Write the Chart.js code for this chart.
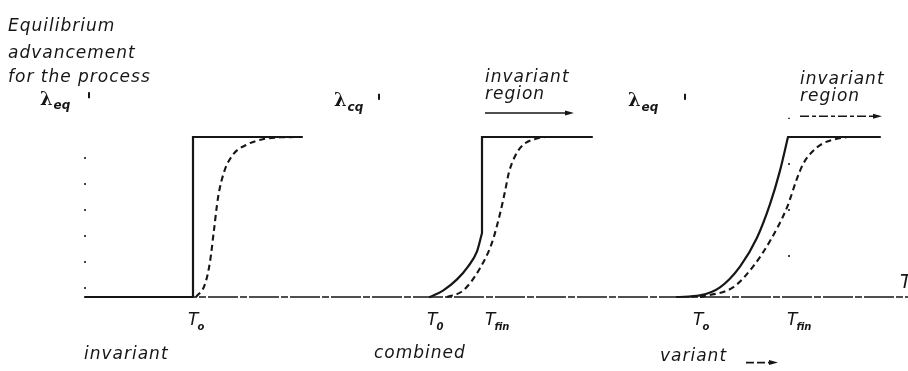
<!DOCTYPE html>
<html>
<head>
<meta charset="utf-8">
<script src="https://cdn.jsdelivr.net/npm/chart.js@4"></script>
<style>
  html, body { margin: 0; padding: 0; background: #fff; }
  #wrap { width: 908px; height: 371px; }
</style>
</head>
<body>
<div id="wrap"><canvas id="eqChart" width="908" height="371"></canvas></div>
<script>
// Temperature axis (arbitrary units) and equilibrium advancement (0 = none, 1 = complete)
const axisT = [85, 908];

// invariant process: sharp step at T0
const invStepT = [85, 193, 193, 302];
const invStepLam = [0, 0, 1, 1];
const invDashT = [196, 205, 210, 214, 218, 224, 233, 246, 262, 280, 300];
const invDashLam = [0, 0.08, 0.22, 0.42, 0.62, 0.78, 0.89, 0.95, 0.985, 0.998, 1];

// combined process: gradual rise from T0, then jump at Tfin
const combCurveT = [430, 443, 457, 468, 477, 482];
const combCurveLam = [0, 0.04, 0.11, 0.19, 0.285, 0.4];
const combStepT = [482, 482, 592];
const combStepLam = [0.4, 1, 1];
const combDashT = [447, 463, 480, 492, 500, 505, 509, 515, 523, 537, 545];
const combDashLam = [0, 0.04, 0.18, 0.34, 0.52, 0.66, 0.78, 0.88, 0.95, 0.99, 1];

// variant process: smooth rise from T0 up to Tfin
const varCurveT = [677, 700, 720, 740, 757, 770, 780, 788];
const varCurveLam = [0, 0.01, 0.06, 0.19, 0.37, 0.58, 0.79, 1];
const varTopT = [788, 880];
const varTopLam = [1, 1];
const varDashT = [700, 733, 753, 770, 787, 797, 803, 811, 823, 838, 847];
const varDashLam = [0, 0.06, 0.19, 0.35, 0.56, 0.74, 0.83, 0.9, 0.96, 0.99, 1];

// tick labels on the T axis
const tickT = [193, 432, 490, 698, 792];
const tickMain = ['T', 'T', 'T', 'T', 'T'];
const tickSub = ['o', '0', 'fin', 'o', 'fin'];

function pts(xs, ys) {
    return xs.map((x, i) => ({ x: x, y: ys[i] }));
}

const ink = '#161616';

function solid(xs, ys, smooth) {
    return {
        data: pts(xs, ys),
        borderColor: ink,
        borderWidth: 2.2,
        pointRadius: 0,
        tension: 0,
        cubicInterpolationMode: smooth ? 'monotone' : 'default',
        borderCapStyle: 'round',
        borderJoinStyle: 'miter'
    };
}

function dashed(xs, ys) {
    return {
        data: pts(xs, ys),
        borderColor: ink,
        borderWidth: 2.1,
        borderDash: [6, 4],
        pointRadius: 0,
        cubicInterpolationMode: 'monotone'
    };
}

function dotted(xs, ys, gap) {
    return {
        data: pts(xs, ys),
        borderColor: ink,
        borderWidth: 1.6,
        borderDash: [2, gap],
        pointRadius: 0
    };
}

// text placed in chart units
const labels = [
    { text: 'Equilibrium', x: 8, y: 1.69 },
    { text: 'advancement', x: 8, y: 1.52 },
    { text: 'for the process', x: 8, y: 1.37 },
    { text: 'invariant', x: 84, y: -0.36 },
    { text: 'combined', x: 374, y: -0.355 },
    { text: 'variant', x: 660, y: -0.37 },
    { text: 'invariant', x: 485, y: 1.37 },
    { text: 'region', x: 485, y: 1.265 },
    { text: 'invariant', x: 800, y: 1.36 },
    { text: 'region', x: 800, y: 1.255 }
];
const lambdaLabels = [
    { x: 40, y: 1.23, sub: 'eq', mark: 88 },
    { x: 334, y: 1.22, sub: 'cq', mark: 378 },
    { x: 628, y: 1.22, sub: 'eq', mark: 684 }
];
const arrows = [
    { x0: 485, x1: 574, y: 1.15, dash: [] },
    { x0: 800, x1: 882, y: 1.13, dash: [9, 3, 4, 3] },
    { x0: 746, x1: 778, y: -0.41, dash: [8, 3] }
];

const textPlugin = {
    id: 'figText',
    afterDatasetsDraw(chart) {
        const { ctx, scales } = chart;
        const px = v => scales.x.getPixelForValue(v);
        const py = v => scales.y.getPixelForValue(v);
        ctx.save();
        ctx.fillStyle = ink;
        ctx.textBaseline = 'middle';
        ctx.font = 'italic 17px "DejaVu Sans"';
        ctx.letterSpacing = '1px';
        labels.forEach(l => ctx.fillText(l.text, px(l.x), py(l.y)));
        ctx.letterSpacing = '0px';

        // lambda symbols with subscripts and small axis tick
        lambdaLabels.forEach(l => {
            ctx.font = 'bold 18px "DejaVu Serif"';
            ctx.fillText('λ', px(l.x), py(l.y));
            const w = ctx.measureText('λ').width;
            ctx.font = 'bold italic 12px "DejaVu Sans"';
            ctx.fillText(l.sub, px(l.x) + w + 1, py(l.y) + 6);
            ctx.fillRect(px(l.mark), py(l.y) - 8, 2, 6);
        });

        // T axis ticks
        tickT.forEach((t, i) => {
            ctx.font = 'italic 17px "DejaVu Sans"';
            const x = px(t) - 5;
            const y = py(-0.15);
            ctx.fillText(tickMain[i], x, y);
            const w = ctx.measureText(tickMain[i]).width;
            ctx.font = 'bold italic 10px "DejaVu Sans"';
            ctx.fillText(tickSub[i], x + w - 1, y + 6);
        });
        ctx.font = 'italic 19px "DejaVu Sans"';
        ctx.fillText('T', px(900), py(0.09));

        // arrows
        ctx.strokeStyle = ink;
        ctx.lineWidth = 1.6;
        arrows.forEach(a => {
            const y = py(a.y);
            ctx.setLineDash(a.dash);
            ctx.beginPath();
            ctx.moveTo(px(a.x0), y);
            ctx.lineTo(px(a.x1) - 6, y);
            ctx.stroke();
            ctx.setLineDash([]);
            ctx.beginPath();
            ctx.moveTo(px(a.x1), y);
            ctx.lineTo(px(a.x1) - 9, y - 2.5);
            ctx.lineTo(px(a.x1) - 9, y + 2.5);
            ctx.closePath();
            ctx.fill();
        });
        ctx.restore();
    }
};

new Chart(document.getElementById('eqChart'), {
    type: 'scatter',
    data: {
        datasets: [
            {
                data: pts(axisT, [0, 0]),
                borderColor: ink,
                borderWidth: 1.5,
                borderDash: [30, 2, 7, 2],
                pointRadius: 0
            },
            dotted([85, 85], [0.05, 1.02], 24),
            dotted([789, 789], [0.25, 1.12], 44),
            solid(invStepT, invStepLam, false),
            dashed(invDashT, invDashLam),
            solid(combCurveT, combCurveLam, true),
            solid(combStepT, combStepLam, false),
            dashed(combDashT, combDashLam),
            solid(varCurveT, varCurveLam, true),
            solid(varTopT, varTopLam, false),
            dashed(varDashT, varDashLam)
        ].map(d => Object.assign({ showLine: true, fill: false }, d))
    },
    options: {
        responsive: false,
        animation: false,
        layout: { padding: 0 },
        plugins: { legend: { display: false }, tooltip: { enabled: false } },
        scales: {
            x: { type: 'linear', display: false, min: 0, max: 908 },
            y: { type: 'linear', display: false, min: -0.4625, max: 1.85625 }
        }
    },
    plugins: [textPlugin]
});
</script>
</body>
</html>
